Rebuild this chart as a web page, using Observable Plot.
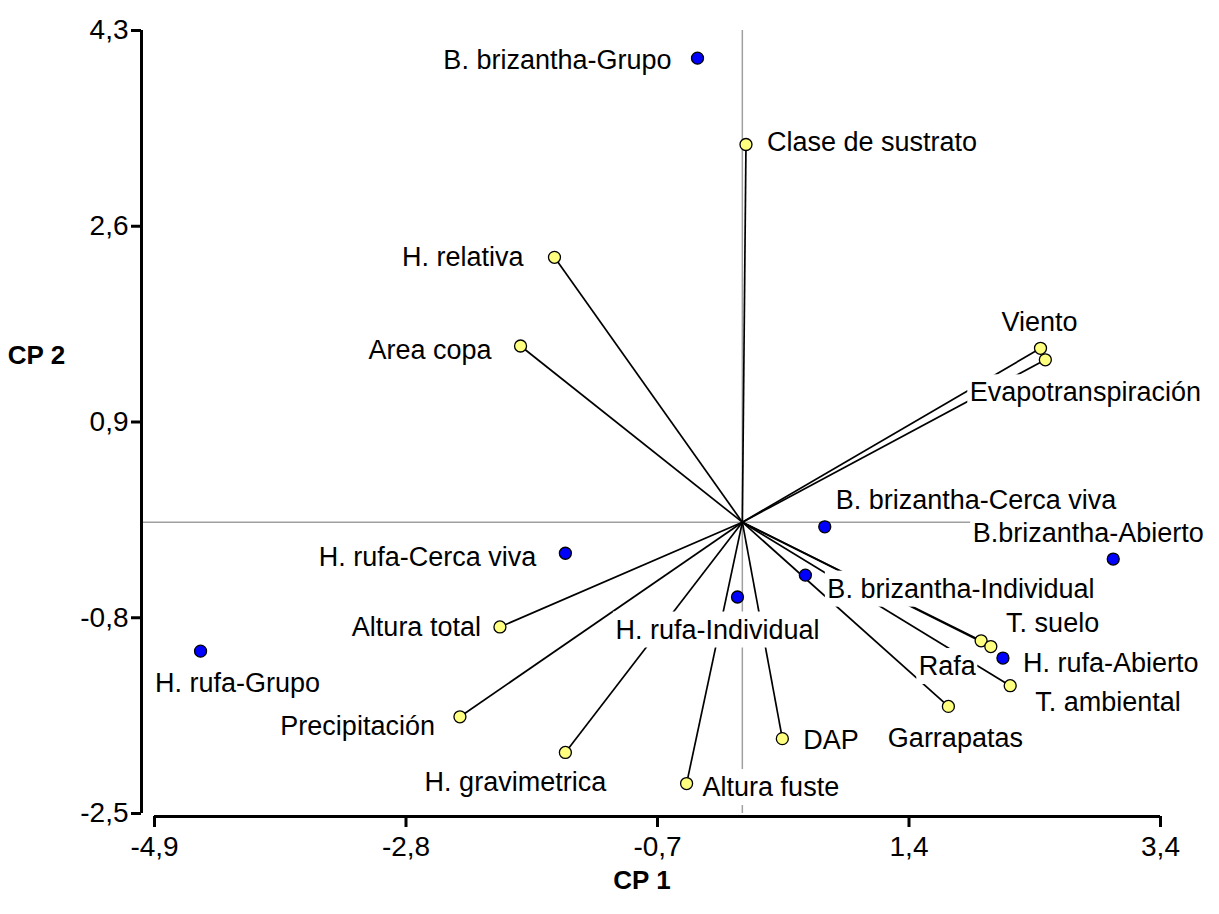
<!DOCTYPE html>
<html>
<head>
<meta charset="utf-8">
<script src="https://cdn.jsdelivr.net/npm/d3@7"></script>
<script src="https://cdn.jsdelivr.net/npm/@observablehq/plot@0.6"></script>
<style>
  html, body { margin: 0; padding: 0; background: #ffffff; }
  #chart { width: 1219px; height: 914px; }
</style>
</head>
<body>
<div id="chart"></div>
<script>
// Biplot: principal components CP 1 vs CP 2

// Variables (vectors from the origin)
const variables = [
  "Clase de sustrato", "H. relativa", "Area copa", "Viento", "Evapotranspiración",
  "T. suelo", "Rafa", "T. ambiental", "Garrapatas", "DAP",
  "Altura fuste", "H. gravimetrica", "Precipitación", "Altura total"
];
const varCP1 = [0.03, -1.55, -1.83, 2.46, 2.50, 1.97, 2.05, 2.21, 1.70, 0.33, -0.46, -1.46, -2.33, -2.00];
const varCP2 = [3.28, 2.30, 1.53, 1.51, 1.41, -1.03, -1.08, -1.42, -1.60, -1.88, -2.27, -2.00, -1.69, -0.91];

// Species x habitat groups (points)
const groups = [
  "B. brizantha-Grupo", "B. brizantha-Cerca viva", "B.brizantha-Abierto", "B. brizantha-Individual",
  "H. rufa-Individual", "H. rufa-Abierto", "H. rufa-Cerca viva", "H. rufa-Grupo"
];
const grpCP1 = [-0.37, 0.68, 3.06, 0.52, -0.04, 2.15, -1.46, -4.47];
const grpCP2 = [4.03, -0.04, -0.32, -0.46, -0.65, -1.18, -0.27, -1.12];

// Axis ticks (evenly spaced over the domain) and their printed labels
const xDomain = [-4.85, 3.45];
const yDomain = [-2.53, 4.27];
const xTickLabels = ["-4,9", "-2,8", "-0,7", "1,4", "3,4"];
const yTickLabels = ["-2,5", "-0,8", "0,9", "2,6", "4,3"];

const xTicks = xTickLabels.map((_, i) => xDomain[0] + i * (xDomain[1] - xDomain[0]) / (xTickLabels.length - 1));
const yTicks = yTickLabels.map((_, i) => yDomain[0] + i * (yDomain[1] - yDomain[0]) / (yTickLabels.length - 1));
const xLabelOf = new Map(xTicks.map((t, i) => [t, xTickLabels[i]]));
const yLabelOf = new Map(yTicks.map((t, i) => [t, yTickLabels[i]]));

const varTable = variables.map((name, i) => ({name, cp1: varCP1[i], cp2: varCP2[i]}));
const grpTable = groups.map((name, i) => ({name, cp1: grpCP1[i], cp2: grpCP2[i]}));

// Layout
const width = 1219, height = 914;
const margin = {left: 141, right: 59, top: 30, bottom: 101};
const xRange = [154, width - margin.right];
const yRange = [height - margin.bottom, margin.top];
const fontFamily = "'Liberation Sans', Arial, sans-serif";
const labelSize = 27;

// Label placement: [text-anchor, dx, dy] relative to the point
const labelPlacement = {
  "Clase de sustrato": ["start", 21, -2],
  "H. relativa": ["end", -31, 0],
  "Area copa": ["end", -29, 4],
  "Viento": ["middle", -1, -26],
  "Evapotranspiración": ["middle", 40, 33],
  "T. suelo": ["start", 25, -17],
  "Rafa": ["end", -15, 20],
  "T. ambiental": ["start", 25, 17],
  "Garrapatas": ["middle", 7, 32],
  "DAP": ["start", 21, 2],
  "Altura fuste": ["start", 16, 4],
  "H. gravimetrica": ["middle", -50, 30],
  "Precipitación": ["end", -25, 10],
  "Altura total": ["end", -19, 0],
  "B. brizantha-Grupo": ["end", -26, 2],
  "B. brizantha-Cerca viva": ["start", 11, -26],
  "B.brizantha-Abierto": ["middle", -25, -26],
  "B. brizantha-Individual": ["start", 22, 14],
  "H. rufa-Individual": ["middle", -20, 33],
  "H. rufa-Abierto": ["start", 20, 5],
  "H. rufa-Cerca viva": ["end", -29, 4],
  "H. rufa-Grupo": ["middle", 37, 32]
};

const allPoints = [...varTable, ...grpTable];

// White boxes behind the labels (lines are hidden where a label sits)
const xs = d3.scaleLinear(xDomain, xRange);
const ys = d3.scaleLinear(yDomain, yRange);
const ctx = document.createElement("canvas").getContext("2d");
ctx.font = `${labelSize}px ${fontFamily}`;
const labelBoxes = allPoints.map(d => {
  const [anchor, dx, dy] = labelPlacement[d.name];
  const w = ctx.measureText(d.name).width;
  const cx = xs(d.cp1) + dx, cy = ys(d.cp2) + dy;
  const left = anchor === "start" ? cx : anchor === "end" ? cx - w : cx - w / 2;
  return {
    x1: xs.invert(left - 2), x2: xs.invert(left + w + 2),
    y1: ys.invert(cy + 18), y2: ys.invert(cy - 18)
  };
});

const labelMarks = allPoints.map(d => {
  const [anchor, dx, dy] = labelPlacement[d.name];
  return Plot.text([d], {
    x: "cp1", y: "cp2", text: "name",
    textAnchor: anchor, dx, dy,
    fontSize: labelSize, fill: "#000000"
  });
});

const chart = Plot.plot({
  width, height,
  marginLeft: margin.left,
  marginRight: margin.right,
  marginTop: margin.top,
  marginBottom: margin.bottom,
  style: {fontFamily, background: "#ffffff", color: "#000000"},
  x: {domain: xDomain, range: xRange, label: null, axis: null},
  y: {domain: yDomain, range: yRange, label: null, axis: null},
  marks: [
    // reference lines through the origin
    Plot.ruleY([0], {stroke: "#a0a0a0", strokeWidth: 1.5}),
    Plot.ruleX([0], {stroke: "#a0a0a0", strokeWidth: 1.5}),
    // variable vectors
    Plot.link(varTable, {x1: () => 0, y1: () => 0, x2: "cp1", y2: "cp2", stroke: "#000000", strokeWidth: 1.7}),
    Plot.rect(labelBoxes, {x1: "x1", x2: "x2", y1: "y1", y2: "y2", fill: "#ffffff"}),
    ...labelMarks,
    Plot.dot(varTable, {x: "cp1", y: "cp2", r: 6, fill: "#ffff80", stroke: "#000000", strokeWidth: 1.3}),
    Plot.dot(grpTable, {x: "cp1", y: "cp2", r: 6, fill: "#0000ff", stroke: "#000000", strokeWidth: 1.3}),
    // axes
    Plot.ruleX([xDomain[0]], {y1: yDomain[0], y2: yDomain[1], dx: -13, stroke: "#000000", strokeWidth: 3}),
    Plot.axisY({ticks: yTicks, anchor: "left", tickSize: 10, tickPadding: 3, strokeWidth: 3,
      fontSize: 28, label: null, tickFormat: d => yLabelOf.get(d)}),
    Plot.ruleY([yDomain[0]], {x1: xDomain[0], x2: xDomain[1], dy: 3, stroke: "#000000", strokeWidth: 3}),
    Plot.axisX({ticks: xTicks, anchor: "bottom", tickSize: 11, tickPadding: 9, strokeWidth: 3, dy: 3,
      fontSize: 28, label: null, tickFormat: d => xLabelOf.get(d)}),
    // axis titles
    Plot.text(["CP 2"], {text: d => d, frameAnchor: "top-left", textAnchor: "middle", lineAnchor: "middle",
      dx: -105, dy: 325, fontSize: 26, fontWeight: "bold"}),
    Plot.text(["CP 1"], {text: d => d, frameAnchor: "bottom", textAnchor: "middle", lineAnchor: "middle",
      dx: -9, dy: 67, fontSize: 26, fontWeight: "bold"})
  ]
});

document.getElementById("chart").append(chart);
</script>
</body>
</html>
